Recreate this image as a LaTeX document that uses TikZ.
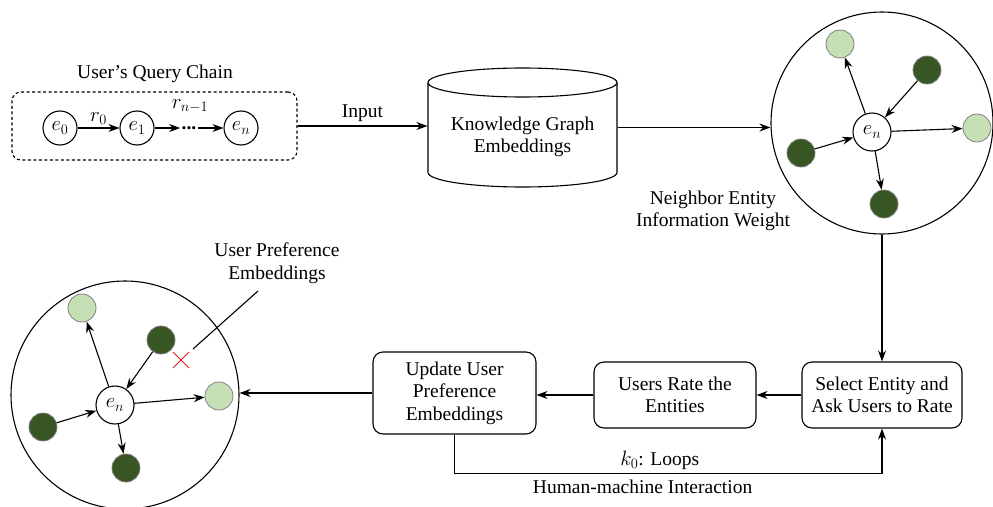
\documentclass[tikz,border=0pt]{standalone}
\usepackage{fontspec}
\setmainfont{Liberation Serif}
\usetikzlibrary{arrows.meta, positioning, calc}
\definecolor{darkleaf}{HTML}{375623}
\definecolor{lightleaf}{HTML}{C5E0B4}
\definecolor{rimgray}{HTML}{7F7F7F}
\definecolor{markred}{HTML}{D02020}

\begin{document}
\begin{tikzpicture}[x=1pt, y=-1pt, font=\fontsize{19.5}{22.5}\selectfont, line width=1.1pt,
    >={Stealth[length=11pt,width=8pt]},
    ent/.style={circle, draw, fill=white, minimum size=34pt, inner sep=0pt},
    hub/.style={circle, draw, fill=white, minimum size=38pt, inner sep=0pt},
    dk/.style={circle, draw=rimgray, line width=0.8pt, fill=darkleaf, minimum size=28pt, inner sep=0pt},
    lt/.style={circle, draw=rimgray, line width=0.8pt, fill=lightleaf, minimum size=28pt, inner sep=0pt},
    proc/.style={draw, rounded corners=10pt, align=center, inner sep=2pt},
    view/.style={circle, draw, inner sep=0pt}]
\useasboundingbox (0,0) rectangle (993,506);

% query chain
\node (chain) [draw, dash pattern=on 3pt off 2.5pt, rounded corners=9pt, minimum width=285pt, minimum height=68pt] at (154.5,126) {};
\node (chaintitle) at (155,74) {User’s Query Chain};
\node (e0) [ent] at (60,128) {$e_0$};
\node (e1) [ent] at (137,128) {$e_1$};
\node (dots) [inner sep=1pt] at (189,128) {\bfseries...};
\node (en) [ent] at (241,128) {$e_n$};
\draw[->] (e0) -- node[above] {$r_0$} (e1);
\draw[->] (e1) -- (dots);
\draw[->] (dots) -- (en);
\node (rlast) at (190,106) {$r_{n-1}$};

% knowledge graph store
\node (kg) [minimum width=189pt, minimum height=119pt] at (522.5,127.5) {};
\draw (522.5,82.5) ellipse [x radius=94.5, y radius=14.5];
\draw (428,82.5) -- (428,172.5) arc [start angle=180, end angle=0, x radius=94.5, y radius=14.5] -- (617,82.5);
\node (kgtext) [align=center] at (522.5,137) {Knowledge Graph\\Embeddings};
\draw[->] (chain.east) -- node[above] {Input} (chain.east -| kg.west);

% neighbour view
\node (nbview) [view, minimum size=222pt] at (882,123) {};
\draw[->] (kg.east) -- (kg.east -| nbview.west);
\node (hubA) [hub] at (872,132) {$e_n$};
\node (a1) [lt] at (840,44) {};
\node (a2) [dk] at (927,70) {};
\node (a3) [lt] at (977,128) {};
\node (a4) [dk] at (801,153) {};
\node (a5) [dk] at (884,204) {};
\draw[->] (hubA) -- (a1);
\draw[->] (a2) -- (hubA);
\draw[->] (hubA) -- (a3);
\draw[->] (a4) -- (hubA);
\draw[->] (hubA) -- (a5);
\node (nbtext) [align=center] at (713,211) {Neighbor Entity\\Information Weight};

% interaction loop
\node (select) [proc, minimum width=160pt, minimum height=66pt] at (882,395) {Select Entity and\\Ask Users to Rate};
\node (rate) [proc, minimum width=162pt, minimum height=66pt] at (675,395) {Users Rate the\\Entities};
\node (update) [proc, minimum width=163pt, minimum height=82pt] at (454.5,393) {Update User\\Preference\\Embeddings};
\draw[->] (nbview.south) -- (select.north);
\draw[->] (select.west) -- (rate.east);
\draw[->] (rate.west) -- (rate.west -| update.east);
\draw[->] (update.south) |- node[pos=0.74, above] {$k_0$: Loops}
    node[pos=0.72, below=3pt] {Human-machine Interaction} ($(select.south)+(0,45)$) -- (select.south);

% preference view
\node (prefview) [view, minimum size=228pt] at (125,395) {};
\draw[->] (update.west) -- (update.west -| prefview.east);
\node (hubB) [hub] at (115,405) {$e_n$};
\node (b1) [lt] at (82,308) {};
\node (b2) [dk] at (161,340) {};
\node (b3) [lt] at (219,396) {};
\node (b4) [dk] at (43,427) {};
\node (b5) [dk] at (126,468) {};
\draw[->] (hubB) -- (b1);
\draw[->] (b2) -- (hubB);
\draw[->] (hubB) -- (b3);
\draw[->] (b4) -- (hubB);
\draw[->] (hubB) -- (b5);
\coordinate (cross) at (181,360);
\draw[markred, line width=1pt] ($(cross)+(-8,-8)$) -- ($(cross)+(8,8)$) ($(cross)+(-8,8)$) -- ($(cross)+(8,-8)$);
\node (preftext) [align=center] at (277,263) {User Preference\\Embeddings};
\coordinate (pointer) at (258,291);
\draw ($(cross)+(12,-11)$) -- (pointer);
\end{tikzpicture}
\end{document}
